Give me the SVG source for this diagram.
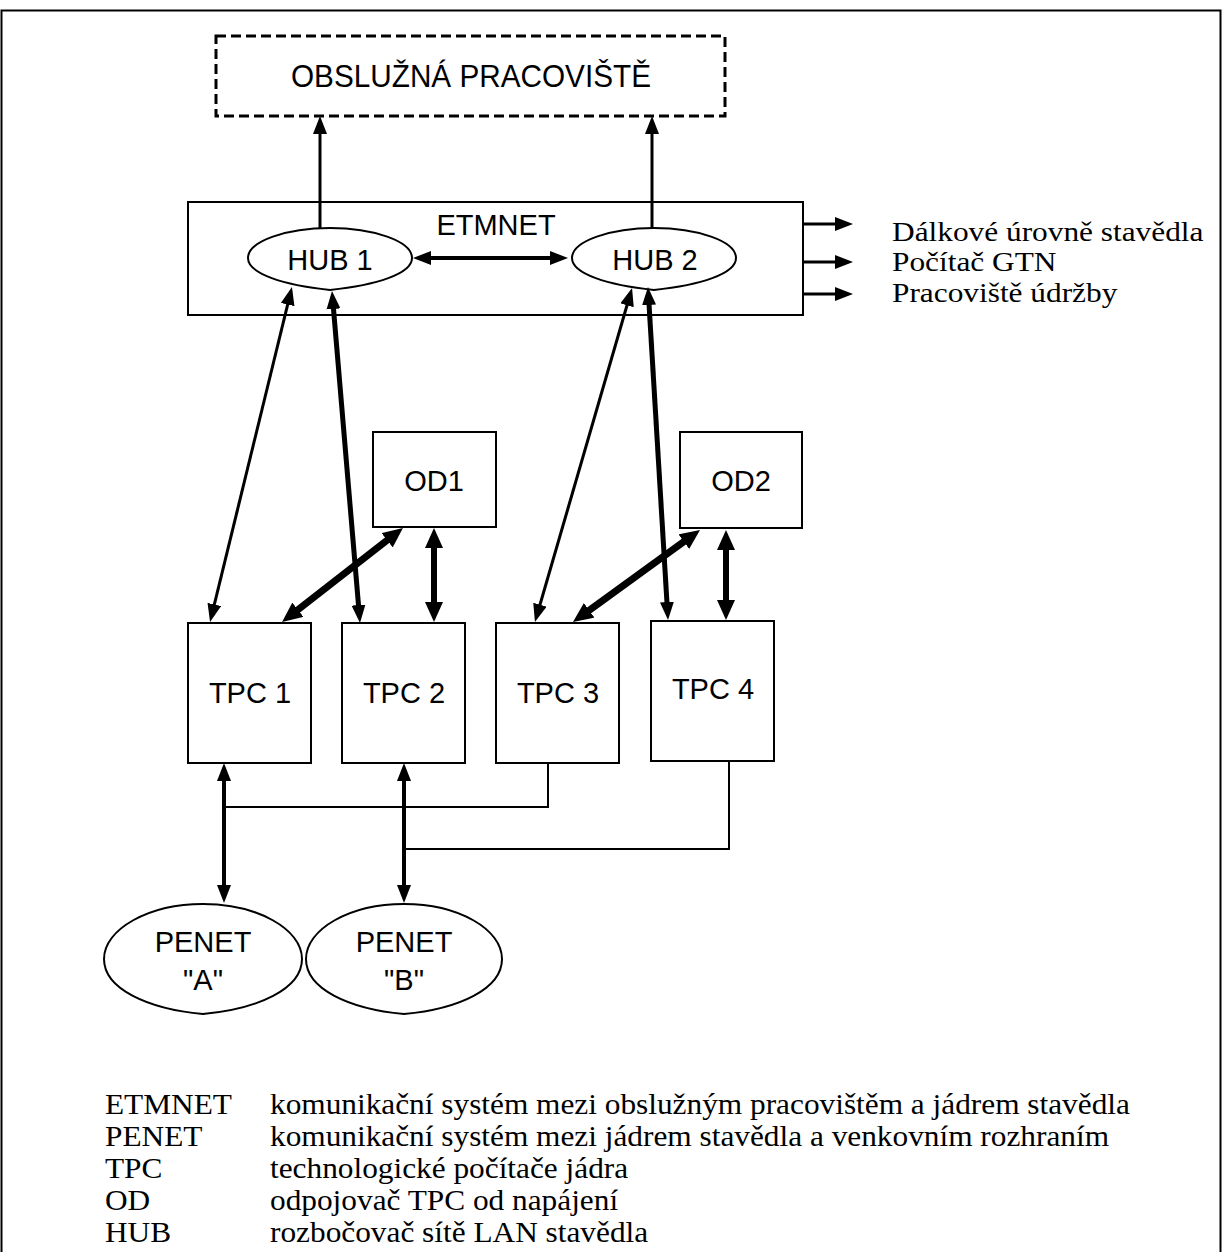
<svg xmlns="http://www.w3.org/2000/svg" width="1222" height="1252" viewBox="0 0 1222 1252">
<defs>
<style>
.box{fill:#fff;stroke:#000;stroke-width:2}
.ell{fill:#fff;stroke:#000;stroke-width:2;stroke-linejoin:round}
.sans{font-family:"Liberation Sans",Arial,sans-serif;font-size:29px;fill:#000;text-anchor:middle}
.serif{font-family:"Liberation Serif","Times New Roman",serif;font-size:29px;fill:#000}
.serif2{font-family:"Liberation Serif","Times New Roman",serif;font-size:27.5px;fill:#000}
.c{fill:none;stroke:#000}
</style>
<marker id="ah" markerUnits="userSpaceOnUse" markerWidth="18" markerHeight="14" refX="6" refY="7" orient="auto-start-reverse"><path d="M0,0 L18,7 L0,14 z" fill="#000"/></marker>
<marker id="ahb" markerUnits="userSpaceOnUse" markerWidth="20" markerHeight="18" refX="6" refY="9" orient="auto-start-reverse"><path d="M0,0 L20,9 L0,18 z" fill="#000"/></marker>
</defs>
<rect width="1222" height="1252" fill="#fff"/>
<path d="M1.5,1252 V10.5 H1220.5 V1252" fill="none" stroke="#000" stroke-width="2"/>

<g id="obsluzna">
<rect x="216" y="36" width="509" height="80" fill="#fff" stroke="#000" stroke-width="3" stroke-dasharray="10 5"/>
<text class="sans" x="471" y="87" style="font-size:31px" textLength="360" lengthAdjust="spacingAndGlyphs">OBSLUŽNÁ PRACOVIŠTĚ</text>
</g>

<g id="etmnet">
<rect class="box" x="188" y="202" width="615" height="113"/>
<text class="sans" x="496" y="235">ETMNET</text>
</g>

<g id="hub1">
<path class="ell" d="M248,258 C248,241 287,228 330,228 C373,228 412,241 412,258 C412,274 376,285 330,290 C284,285 248,274 248,258 Z"/>
<text class="sans" x="330" y="270">HUB 1</text>
</g>
<g id="hub2">
<path class="ell" d="M572,258 C572,241 611,228 654,228 C697,228 736,241 736,258 C736,274 700,285 654,290 C608,285 572,274 572,258 Z"/>
<text class="sans" x="655" y="270">HUB 2</text>
</g>

<g id="od1">
<rect class="box" x="373" y="432" width="123" height="95"/>
<text class="sans" x="434" y="491">OD1</text>
</g>
<g id="od2">
<rect class="box" x="680" y="432" width="122" height="96"/>
<text class="sans" x="741" y="491">OD2</text>
</g>

<g id="tpc1">
<rect class="box" x="188" y="623" width="123" height="140"/>
<text class="sans" x="250" y="703">TPC 1</text>
</g>
<g id="tpc2">
<rect class="box" x="342" y="623" width="123" height="140"/>
<text class="sans" x="404" y="703">TPC 2</text>
</g>
<g id="tpc3">
<rect class="box" x="496" y="623" width="123" height="140"/>
<text class="sans" x="558" y="703">TPC 3</text>
</g>
<g id="tpc4">
<rect class="box" x="651" y="621" width="123" height="140"/>
<text class="sans" x="713" y="699">TPC 4</text>
</g>

<g id="penetA">
<path class="ell" d="M104,959 C104,929 149,904 203,904 C257,904 302,929 302,959 C302,989 258,1009 203,1014 C148,1009 104,989 104,959 Z"/>
<text class="sans" x="203" y="952">PENET</text>
<text class="sans" x="203" y="990">"A"</text>
</g>
<g id="penetB">
<path class="ell" d="M306,959 C306,929 350,904 404,904 C458,904 502,929 502,959 C502,989 459,1009 404,1014 C349,1009 306,989 306,959 Z"/>
<text class="sans" x="404" y="952">PENET</text>
<text class="sans" x="404" y="990">"B"</text>
</g>

<g id="outputs">
<text class="serif2" transform="translate(892,241) scale(1.14,1)">Dálkové úrovně stavědla</text>
<text class="serif2" transform="translate(892,271) scale(1.14,1)">Počítač GTN</text>
<text class="serif2" transform="translate(892,302) scale(1.14,1)">Pracoviště údržby</text>
</g>

<g id="connectors">
<line class="c" stroke-width="3" x1="320" y1="228" x2="320" y2="128" marker-end="url(#ah)"/>
<line class="c" stroke-width="3" x1="652" y1="228" x2="652" y2="128" marker-end="url(#ah)"/>
<line class="c" stroke-width="4" x1="425" y1="258" x2="556" y2="258" marker-start="url(#ah)" marker-end="url(#ah)"/>
<line class="c" stroke-width="3" x1="803" y1="224" x2="841" y2="224" marker-end="url(#ah)"/>
<line class="c" stroke-width="3" x1="803" y1="262" x2="841" y2="262" marker-end="url(#ah)"/>
<line class="c" stroke-width="3" x1="803" y1="294" x2="841" y2="294" marker-end="url(#ah)"/>
<line class="c" stroke-width="3" x1="289.1" y1="298.7" x2="212.9" y2="610.3" marker-start="url(#ah)" marker-end="url(#ah)"/>
<line class="c" stroke-width="5" x1="333" y1="303" x2="359" y2="611" marker-start="url(#ah)" marker-end="url(#ah)"/>
<line class="c" stroke-width="3" x1="628.7" y1="299.5" x2="538.3" y2="610.5" marker-start="url(#ah)" marker-end="url(#ah)"/>
<line class="c" stroke-width="5" x1="648.7" y1="299" x2="667.3" y2="608" marker-start="url(#ah)" marker-end="url(#ah)"/>
<line class="c" stroke-width="7" x1="391.9" y1="536.6" x2="293.1" y2="613.4" marker-start="url(#ahb)" marker-end="url(#ahb)"/>
<line class="c" stroke-width="6" x1="434" y1="542" x2="434" y2="608" marker-start="url(#ahb)" marker-end="url(#ahb)"/>
<line class="c" stroke-width="7" x1="688.7" y1="538.2" x2="584.3" y2="613.8" marker-start="url(#ahb)" marker-end="url(#ahb)"/>
<line class="c" stroke-width="6" x1="726" y1="544" x2="726" y2="606" marker-start="url(#ahb)" marker-end="url(#ahb)"/>
<path class="c" stroke-width="2" d="M548,763 V807 H224"/>
<path class="c" stroke-width="2" d="M729,761 V849 H404"/>
<line class="c" stroke-width="4" x1="224" y1="775" x2="224" y2="891" marker-start="url(#ah)" marker-end="url(#ah)"/>
<line class="c" stroke-width="4" x1="404" y1="775" x2="404" y2="891" marker-start="url(#ah)" marker-end="url(#ah)"/>
</g>

<g id="legend">
<text class="serif" transform="translate(105,1114) scale(1.08,1)">ETMNET</text>
<text class="serif" transform="translate(270,1114) scale(1.08,1)">komunikační systém mezi obslužným pracovištěm a jádrem stavědla</text>
<text class="serif" transform="translate(105,1146) scale(1.08,1)">PENET</text>
<text class="serif" transform="translate(270,1146) scale(1.08,1)">komunikační systém mezi jádrem stavědla a venkovním rozhraním</text>
<text class="serif" transform="translate(105,1178) scale(1.08,1)">TPC</text>
<text class="serif" transform="translate(270,1178) scale(1.08,1)">technologické počítače jádra</text>
<text class="serif" transform="translate(105,1210) scale(1.08,1)">OD</text>
<text class="serif" transform="translate(270,1210) scale(1.08,1)">odpojovač TPC od napájení</text>
<text class="serif" transform="translate(105,1242) scale(1.08,1)">HUB</text>
<text class="serif" transform="translate(270,1242) scale(1.08,1)">rozbočovač sítě LAN stavědla</text>
</g>
</svg>
